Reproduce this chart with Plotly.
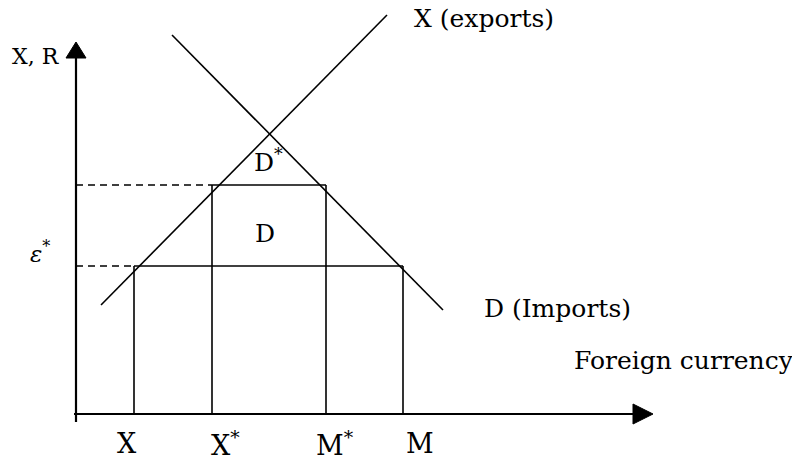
import plotly.graph_objects as go

# ---- diagram values (data units, origin at the axes' crossing) ----
qty_ticks = [58, 136, 250, 327]            # X, X*, M*, M
qty_labels = ["X", "X<sup>*</sup>", "M<sup>*</sup>", "M"]
qty_label_left = [39, 133, 238, 328]       # left edge of each tick label
price_eps = 148                             # epsilon* level
price_upper = 229                           # upper (dashed) level
supply_x = [25, 311]
supply_y = [109, 399]
demand_x = [96, 367]
demand_y = [379, 104]
y_axis_top = 356
x_axis_right = 557

FONT = "DejaVu Serif"
LW = 1.6

fig = go.Figure()

def seg(x, y, width=LW, dash="solid"):
    fig.add_trace(go.Scatter(x=x, y=y, mode="lines", hoverinfo="skip",
                             line=dict(color="black", width=width, dash=dash),
                             showlegend=False))

# supply / demand curves
seg(supply_x, supply_y)
seg(demand_x, demand_y)

X, Xs, Ms, M = qty_ticks
# horizontal solid lines
seg([X, M], [price_eps, price_eps])
seg([Xs, Ms], [price_upper, price_upper])
# vertical lines
seg([X, X], [0, price_eps])
seg([M, M], [0, price_eps])
seg([Xs, Xs], [0, price_upper])
seg([Ms, Ms], [0, price_upper])
# dashed guides
seg([0, X], [price_eps, price_eps], dash="7px,5px")
seg([0, Xs], [price_upper, price_upper], dash="7px,5px")

# axes
seg([0, 0], [-8, y_axis_top], width=2.2)
seg([-2, x_axis_right], [0, 0], width=2.2)

shapes = [
    dict(type="path", xref="x", yref="y",
         path=f"M -10 {y_axis_top} L 10 {y_axis_top} L 0 {y_axis_top + 16} Z",
         fillcolor="black", line=dict(color="black", width=1)),
    dict(type="path", xref="x", yref="y",
         path=f"M {x_axis_right} -10 L {x_axis_right} 10 L {x_axis_right + 20} 0 Z",
         fillcolor="black", line=dict(color="black", width=1)),
]

ann = []
def text(x, y, s, size=25, xanchor="center", italic=False):
    if italic:
        s = f"<i>{s}</i>"
    ann.append(dict(x=x, y=y, xref="x", yref="y", text=s, showarrow=False,
                    xanchor=xanchor, yanchor="middle",
                    font=dict(family=FONT, size=size, color="black")))

for left, lab in zip(qty_label_left, qty_labels):
    text(left, -29, lab, size=27, xanchor="left")

text(-40, 358, "X, R", size=22)
text(-36, 162, "ε<sup>*</sup>", size=23, italic=True)
text(192, 254, "D<sup>*</sup>", size=25)
text(189, 181, "D", size=25)
text(336, 396, "X (exports)", xanchor="left")
text(406, 106, "D (Imports)", xanchor="left")
text(496, 54, "Foreign currency", xanchor="left")

fig.update_layout(
    width=792, height=462,
    margin=dict(l=0, r=0, t=0, b=0),
    paper_bgcolor="white", plot_bgcolor="white",
    xaxis=dict(range=[-76, 716], visible=False, fixedrange=True),
    yaxis=dict(range=[-48, 414], visible=False, fixedrange=True),
    shapes=shapes, annotations=ann, showlegend=False,
)

fig.write_html("out.html", config={"displayModeBar": False},
               post_script="document.body.style.margin='0';document.body.style.overflow='hidden';")
